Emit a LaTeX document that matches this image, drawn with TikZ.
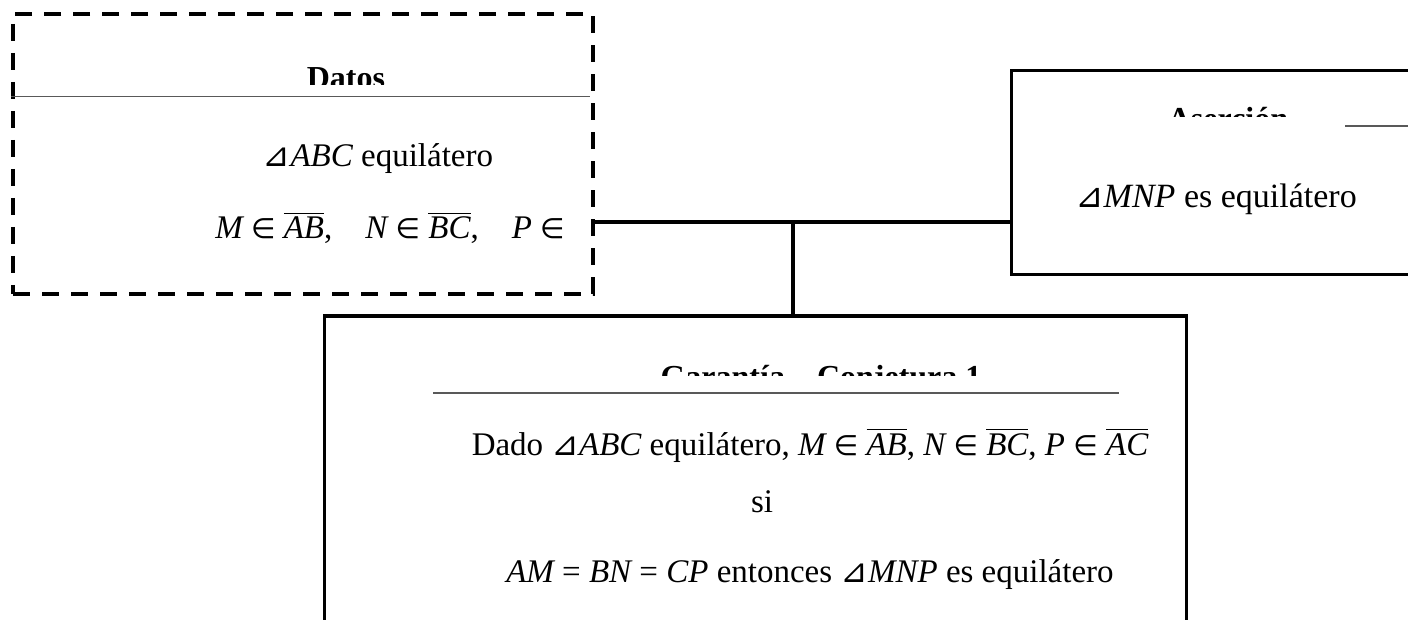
\documentclass[tikz,border=0pt]{standalone}
\usepackage{fontspec}
\setmainfont{Liberation Serif}
\newfontfamily\symfont{DejaVu Sans}

% symbols and math-like pieces set in text
\newcommand\tri{{\symfont ⊿}}
\newcommand\mi[1]{{\itshape #1}}
\newcommand\elem{\scalebox{0.85}{\symfont ∈}}
\newcommand\seg[1]{\leavevmode\vbox{\hrule height 1.4pt\kern 3pt\hbox{\itshape #1}}}

\tikzset{
  solidbox/.style={draw, line width=3pt, rectangle, inner sep=0pt},
  databox/.style={draw, line width=4pt, dash pattern=on 17pt off 12pt, rectangle, inner sep=0pt},
  sepline/.style={draw=black!65, line width=1.5pt},
  conn/.style={line width=4pt},
  body/.style={font=\fontsize{33}{40}\selectfont, anchor=base, inner sep=0pt},
  head/.style={font=\fontsize{32}{38}\selectfont\bfseries, anchor=base, inner sep=0pt},
}

\begin{document}
\begin{tikzpicture}[x=1pt, y=-1pt]
  \useasboundingbox (0,0) rectangle (1408,620);
  \clip (0,0) rectangle (1408,620);
  \fill[white] (0,0) rectangle (1408,620);

  % the three boxes
  \node[databox, minimum width=580pt, minimum height=280pt] (datos) at (303,154) {};
  \node[solidbox, minimum width=419pt, minimum height=204pt] (asercion) at (1220.5,173) {};
  \node[solidbox, minimum width=862pt, minimum height=324pt] (garantia) at (755,478) {};

  % headings, cut off at their upper part
  \begin{scope}
    \clip (13,14) rectangle (593,85);
    \node[head] (hdatos) at (346,89) {Datos};
  \end{scope}
  \begin{scope}
    \clip (1011,71) rectangle (1408,117);
    \node[head] (hasercion) at (1228,129.5) {Aserción};
  \end{scope}
  \begin{scope}
    \clip (324,316) rectangle (1186,375);
    \node[head] (hgarantia) at (821,387) {Garantía – Conjetura 1};
  \end{scope}

  % separator rules under the headings
  \draw[sepline] (11,96.5) -- (590,96.5);
  \draw[sepline] (1345,126) -- (1408,126);
  \draw[sepline] (433,393) -- (1119,393);

  % contents of the data box
  \node[body] (d1) at (378,167) {\tri\mi{ABC} equilátero};
  \node[body] (d2) at (390,239) {\mi{M} \elem\ \seg{AB},\quad \mi{N} \elem\ \seg{BC},\quad \mi{P} \elem};

  % contents of the claim box
  \node[body, font=\fontsize{34}{40}\selectfont] (a1) at (1216,208) {\tri\mi{MNP} es equilátero};

  % contents of the warrant box
  \node[body] (g1) at (810,455) {Dado \tri\mi{ABC} equilátero, \mi{M} \elem\ \seg{AB}, \mi{N} \elem\ \seg{BC}, \mi{P} \elem\ \seg{AC}};
  \node[body] (g2) at (762,512) {si};
  \node[body] (g3) at (810,582) {\mi{AM} = \mi{BN} = \mi{CP} entonces \tri\mi{MNP} es equilátero};

  % connectors
  \coordinate (junction) at (793,222);
  \draw[conn] (datos.east |- junction) -- (asercion.west |- junction);
  \draw[conn] (junction) -- (garantia.north -| junction);
\end{tikzpicture}
\end{document}
